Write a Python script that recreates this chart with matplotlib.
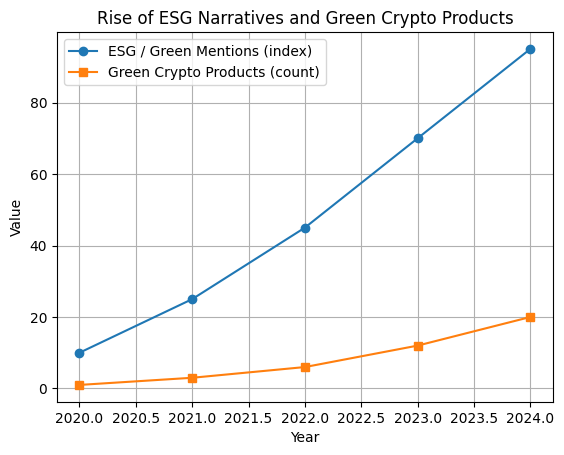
import matplotlib
matplotlib.use("Agg")
import matplotlib.pyplot as plt

# data
years = [2020, 2021, 2022, 2023, 2024]
esg_mentions = [10, 25, 45, 70, 95]
green_products = [1, 3, 6, 12, 20]

fig, ax = plt.subplots(figsize=(6.4, 4.8), dpi=100)
ax.plot(years, esg_mentions, marker='o', label='ESG / Green Mentions (index)')
ax.plot(years, green_products, marker='s', label='Green Crypto Products (count)')
ax.set_title('Rise of ESG Narratives and Green Crypto Products')
ax.set_xlabel('Year')
ax.set_ylabel('Value')
ax.grid(True)
ax.legend()
fig.savefig('out.png', dpi=100, bbox_inches='tight')
